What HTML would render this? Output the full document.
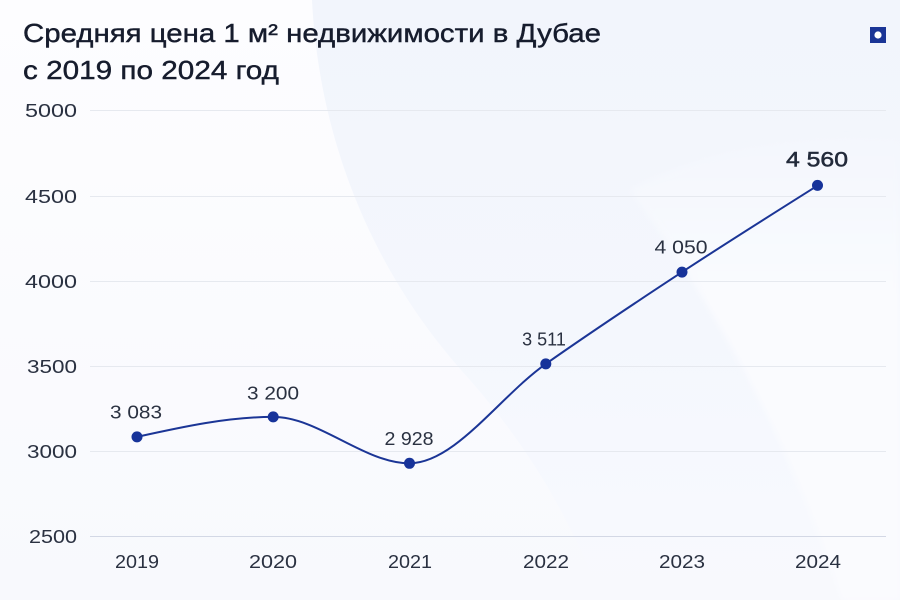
<!DOCTYPE html>
<html>
<head>
<meta charset="utf-8">
<style>
  html,body{margin:0;padding:0;}
  body{width:900px;height:600px;overflow:hidden;background:#fbfcfe;}
  svg{display:block;}
  text{font-family:"Liberation Sans","Noto Sans CJK SC",sans-serif;}
</style>
</head>
<body>
<svg width="900" height="600" viewBox="0 0 900 600" xmlns="http://www.w3.org/2000/svg">
  <defs>
    <linearGradient id="bg" x1="0" y1="0" x2="0" y2="1">
      <stop offset="0" stop-color="#fdfdff"/>
      <stop offset="1" stop-color="#f8f9fd"/>
    </linearGradient>
    <linearGradient id="band" gradientUnits="userSpaceOnUse" x1="0" y1="0" x2="0" y2="600">
      <stop offset="0" stop-color="#f2f5fc"/>
      <stop offset="0.55" stop-color="#f4f7fd"/>
      <stop offset="0.85" stop-color="#f7f9fe"/>
      <stop offset="1" stop-color="#f8f9fd"/>
    </linearGradient>
    <linearGradient id="inner" gradientUnits="userSpaceOnUse" x1="0" y1="150" x2="0" y2="300">
      <stop offset="0" stop-color="#f4f7fd"/>
      <stop offset="1" stop-color="#fafbfe"/>
    </linearGradient>
    <filter id="soft" x="-20%" y="-20%" width="140%" height="140%">
      <feGaussianBlur stdDeviation="3"/>
    </filter>
  </defs>
  <rect x="0" y="0" width="900" height="600" fill="url(#bg)"/>
  <!-- large soft band -->
  <path d="M 312,0 C 318,120 360,260 470,380 C 540,460 580,540 600,600 L 900,600 L 900,0 Z" fill="url(#band)"/>
  <!-- lighter inner region at right -->
  <path d="M 630,190 Q 770,380 842,600 L 900,600 L 900,140 Q 740,130 630,190 Z" fill="url(#inner)" filter="url(#soft)"/>

  <!-- gridlines -->
  <g stroke="#e6e9ef" stroke-width="1">
    <line x1="90" y1="110.5" x2="886" y2="110.5"/>
    <line x1="90" y1="196.5" x2="886" y2="196.5"/>
    <line x1="90" y1="281.5" x2="886" y2="281.5"/>
    <line x1="90" y1="366.5" x2="886" y2="366.5"/>
    <line x1="90" y1="451.5" x2="886" y2="451.5"/>
  </g>
  <line x1="90" y1="536.5" x2="886" y2="536.5" stroke="#d3d8e5" stroke-width="1"/>

  <!-- title -->
  <text x="23" y="42" font-size="26" font-weight="normal" fill="#161c2d" stroke="#161c2d" stroke-width="0.4" textLength="578" lengthAdjust="spacingAndGlyphs">Средняя цена 1 м² недвижимости в Дубае</text>
  <text x="23" y="79" font-size="26" font-weight="normal" fill="#161c2d" stroke="#161c2d" stroke-width="0.4" textLength="256" lengthAdjust="spacingAndGlyphs">с 2019 по 2024 год</text>

  <!-- logo -->
  <rect x="870" y="27" width="16" height="16" fill="#1b3596"/>
  <circle cx="878" cy="35" r="3.6" fill="#ffffff"/>

  <!-- y axis labels -->
  <g font-size="18" fill="#2a3141" text-anchor="end">
    <text x="77" y="117" textLength="52" lengthAdjust="spacingAndGlyphs">5000</text>
    <text x="77" y="203" textLength="52" lengthAdjust="spacingAndGlyphs">4500</text>
    <text x="77" y="288" textLength="52" lengthAdjust="spacingAndGlyphs">4000</text>
    <text x="77" y="373" textLength="50" lengthAdjust="spacingAndGlyphs">3500</text>
    <text x="77" y="458" textLength="50" lengthAdjust="spacingAndGlyphs">3000</text>
    <text x="77" y="543" textLength="48" lengthAdjust="spacingAndGlyphs">2500</text>
  </g>

  <!-- x axis labels -->
  <g font-size="18" fill="#2a3141" text-anchor="middle">
    <text x="137" y="568" textLength="44" lengthAdjust="spacingAndGlyphs">2019</text>
    <text x="273" y="568" textLength="48" lengthAdjust="spacingAndGlyphs">2020</text>
    <text x="410" y="568" textLength="44" lengthAdjust="spacingAndGlyphs">2021</text>
    <text x="546" y="568" textLength="46" lengthAdjust="spacingAndGlyphs">2022</text>
    <text x="682" y="568" textLength="46" lengthAdjust="spacingAndGlyphs">2023</text>
    <text x="818" y="568" textLength="46" lengthAdjust="spacingAndGlyphs">2024</text>
  </g>

  <!-- series line -->
  <path d="M137,436.9 C182.4,426.9 227.8,416.9 273.2,416.9 C318.6,416.9 364.1,463.3 409.5,463.3 C454.9,463.3 500.4,395.8 545.8,363.9 C591.2,332.0 636.6,301.9 682,272.1 C727.4,242.3 772.8,213.8 818.2,185.2"
        fill="none" stroke="#1b3596" stroke-width="2"/>
  <g fill="#17339a">
    <circle cx="137" cy="436.9" r="5.5"/>
    <circle cx="273.2" cy="416.9" r="5.5"/>
    <circle cx="409.5" cy="463.3" r="5.5"/>
    <circle cx="545.8" cy="363.9" r="5.5"/>
    <circle cx="682" cy="272.1" r="5.5"/>
    <circle cx="817.5" cy="185.4" r="5.5"/>
  </g>

  <!-- value labels -->
  <g font-size="18" fill="#2a3141" text-anchor="middle">
    <text x="136" y="418.5" textLength="52" lengthAdjust="spacingAndGlyphs">3 083</text>
    <text x="273" y="399.5" textLength="52" lengthAdjust="spacingAndGlyphs">3 200</text>
    <text x="409" y="445" textLength="49" lengthAdjust="spacingAndGlyphs">2 928</text>
    <text x="544" y="345.5">3 511</text>
    <text x="681" y="253.5" textLength="53" lengthAdjust="spacingAndGlyphs">4 050</text>
  </g>
  <text x="817" y="166.5" font-size="21" fill="#222a3a" stroke="#222a3a" stroke-width="0.5" text-anchor="middle" textLength="62" lengthAdjust="spacingAndGlyphs">4 560</text>
</svg>
</body>
</html>
